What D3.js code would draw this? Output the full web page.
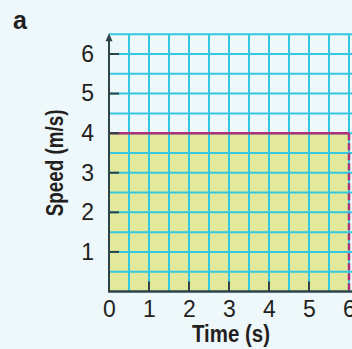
<!DOCTYPE html>
<html><head><meta charset="utf-8">
<script src="https://cdn.jsdelivr.net/npm/d3@7"></script>
<style>
html,body{margin:0;padding:0;background:#eef7f9;}
svg{display:block;}
text{font-family:"Liberation Sans",Arial,sans-serif;fill:#231f20;}
</style></head>
<body>
<script>
// Data
const time = [0, 6];          // s
const speed = [4, 4];         // m/s
const xTicks = [0, 1, 2, 3, 4, 5, 6];
const yTicks = [1, 2, 3, 4, 5, 6];
const gridStep = 0.5;
const xMax = 6.1, yMax = 6.5;
const panelLabel = "a";
const xTitle = "Time (s)";
const yTitle = "Speed (m/s)";

const W = 352, H = 349;
const svg = d3.select("body").append("svg").attr("width", W).attr("height", H);
svg.append("rect").attr("width", W).attr("height", H).attr("fill", "#eef7f9");

const x = d3.scaleLinear().domain([0, 6]).range([109, 349]);
const y = d3.scaleLinear().domain([0, 6]).range([291.5, 54]);

const gridCol = "#35c7e1";
const magenta = "#ad3079";
const axisCol = "#2d4448";
const fontFam = '"Liberation Sans",Arial,sans-serif';

// filled area under the speed line
const area = d3.area().x((d, i) => x(time[i])).y0(y(0)).y1(d => y(d));
svg.append("path").datum(speed).attr("d", area).attr("fill", "#e2e99a");

// grid
const gx = d3.range(gridStep, xMax + 0.6, gridStep);
const gy = d3.range(gridStep, yMax + 0.01, gridStep);
svg.append("g").selectAll("line").data(gx).join("line")
  .attr("x1", d => x(d)).attr("x2", d => x(d))
  .attr("y1", y(yMax)).attr("y2", y(0))
  .attr("stroke", gridCol).attr("stroke-width", 2);
svg.append("g").selectAll("line").data(gy).join("line")
  .attr("x1", x(0)).attr("x2", W)
  .attr("y1", d => y(d)).attr("y2", d => y(d))
  .attr("stroke", gridCol).attr("stroke-width", 2);

// speed line
const line = d3.line().x((d, i) => x(time[i])).y(d => y(d));
svg.append("path").datum(speed).attr("d", line)
  .attr("fill", "none").attr("stroke", magenta).attr("stroke-width", 2.5);
// dashed drop line
svg.append("line")
  .attr("x1", x(time[1])).attr("x2", x(time[1]))
  .attr("y1", y(speed[1])).attr("y2", y(0))
  .attr("stroke", magenta).attr("stroke-width", 2.5)
  .attr("stroke-dasharray", "7,3");

// axes
const xAxis = d3.axisBottom(x).tickValues(xTicks).tickSize(0).tickPadding(9).tickFormat(d3.format("d"));
const gxA = svg.append("g").attr("transform", `translate(0,${y(0)})`).call(xAxis);
gxA.select(".domain").remove();
gxA.selectAll("text").attr("font-size", 23).attr("fill", "#231f20").style("font-family", fontFam);

const yAxis = d3.axisLeft(y).tickValues(yTicks).tickSize(0).tickPadding(15).tickFormat(d3.format("d"));
const gyA = svg.append("g").attr("transform", `translate(${x(0)},0)`).call(yAxis);
gyA.select(".domain").remove();
gyA.selectAll("text").attr("font-size", 23).attr("fill", "#231f20").style("font-family", fontFam);

// inner tick marks
svg.append("g").selectAll("line").data(yTicks).join("line")
  .attr("x1", x(0)).attr("x2", x(0) + 10)
  .attr("y1", d => y(d)).attr("y2", d => y(d))
  .attr("stroke", axisCol).attr("stroke-width", 2);
svg.append("g").selectAll("line").data(xTicks.filter(d => d > 0 && d < 6)).join("line")
  .attr("x1", d => x(d)).attr("x2", d => x(d))
  .attr("y1", y(0)).attr("y2", y(0) - 10)
  .attr("stroke", axisCol).attr("stroke-width", 2);

// axis lines
svg.append("line").attr("x1", x(0)).attr("x2", W).attr("y1", y(0)).attr("y2", y(0))
  .attr("stroke", axisCol).attr("stroke-width", 2.5);
svg.append("line").attr("x1", x(0)).attr("x2", x(0)).attr("y1", y(0) + 1).attr("y2", y(yMax) + 4)
  .attr("stroke", axisCol).attr("stroke-width", 2);
// arrow head
const ax = x(0), ay = y(yMax) - 1;
svg.append("path").attr("d", `M${ax},${ay} L${ax - 3.5},${ay + 8} L${ax + 3.5},${ay + 8} Z`).attr("fill", axisCol);

// titles
svg.append("text").attr("x", 231).attr("y", 342).attr("text-anchor", "middle")
  .attr("font-size", 23.5).attr("font-weight", "bold")
  .attr("textLength", 78).attr("lengthAdjust", "spacingAndGlyphs").text(xTitle);
svg.append("text").attr("transform", `translate(63,${(y(0) + y(yMax)) / 2}) rotate(-90)`)
  .attr("text-anchor", "middle").attr("font-size", 23.5).attr("font-weight", "bold")
  .attr("textLength", 107).attr("lengthAdjust", "spacingAndGlyphs").text(yTitle);
svg.append("text").attr("x", 13).attr("y", 29).attr("font-size", 25).attr("font-weight", "bold").text(panelLabel);
</script>
</body></html>
